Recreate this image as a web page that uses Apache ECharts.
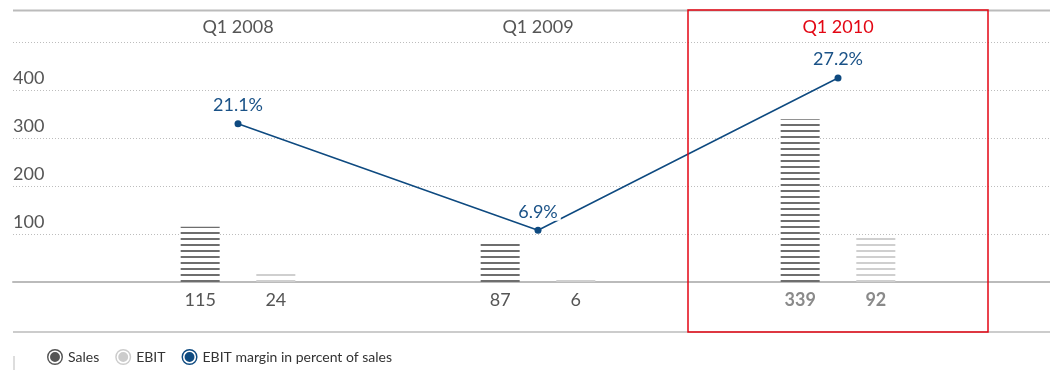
<!DOCTYPE html>
<html>
<head>
<meta charset="utf-8">
<script src="https://cdn.jsdelivr.net/npm/echarts@6/dist/echarts.min.js"></script>
<style>
html,body{margin:0;padding:0;background:#fff;}
#chart{width:1050px;height:374px;}
</style>
</head>
<body>
<div id="chart"></div>
<script>
// ---- data ----
var categories = ['Q1 2008', 'Q1 2009', 'Q1 2010'];
var sales = [115, 87, 339];
var ebit = [24, 6, 92];
var ebitMargin = [21.1, 6.9, 27.2];
var yTicks = [100, 200, 300, 400];
var highlightIndex = 2;

var FONT = 'Lato, "Open Sans", sans-serif';
var RED = '#e30613';
var BLUE = '#0e4a80';

function stripe(color) {
  var c = document.createElement('canvas');
  c.width = 4; c.height = 6;
  var ctx = c.getContext('2d');
  ctx.fillStyle = '#ffffff';
  ctx.fillRect(0, 0, 4, 6);
  ctx.fillStyle = color;
  ctx.fillRect(0, 4, 4, 2);
  return { image: c, repeat: 'repeat' };
}

function ringIcon() {
  return 'path://M10,0 A10,10 0 1,1 10,20 A10,10 0 1,1 10,0 Z ' +
         'M10,1.8 A8.2,8.2 0 1,0 10,18.2 A8.2,8.2 0 1,0 10,1.8 Z ' +
         'M10,3.8 A6.2,6.2 0 1,1 10,16.2 A6.2,6.2 0 1,1 10,3.8 Z';
}

function barData(vals) {
  return vals.map(function (v, i) {
    var hl = i === highlightIndex;
    return {
      value: v,
      label: hl ? { color: '#8a8a8a', fontWeight: 'bold' } : { color: '#555', fontWeight: 'normal' }
    };
  });
}

var chart = echarts.init(document.getElementById('chart'), null, { renderer: 'canvas' });

var option = {
  animation: false,
  backgroundColor: '#fff',
  textStyle: { fontFamily: FONT },
  grid: [
    { left: 88, right: 62, top: 42, bottom: 92 },
    { left: 13, right: 0, top: 42, bottom: 92 }
  ],
  legend: {
    left: 47, top: 349, padding: 0,
    itemWidth: 16, itemHeight: 16, itemGap: 16,
    textStyle: { fontFamily: FONT, fontSize: 14, color: '#333' },
    data: [
      { name: 'Sales', icon: ringIcon(), itemStyle: { color: '#555' } },
      { name: 'EBIT', icon: ringIcon(), itemStyle: { color: '#cccccc' } },
      { name: 'EBIT margin in percent of sales', icon: ringIcon(), itemStyle: { color: BLUE } }
    ]
  },
  xAxis: [
    {
      type: 'category', gridIndex: 0, position: 'top',
      data: categories.map(function (c, i) {
        return { value: c, textStyle: { color: i === highlightIndex ? RED : '#555' } };
      }),
      axisLine: { show: false }, axisTick: { show: false },
      axisLabel: { fontFamily: FONT, fontSize: 18, margin: 6, color: '#555' }
    },
    {
      type: 'value', gridIndex: 1, min: 0, max: 1,
      axisLine: { show: true, lineStyle: { color: '#bbbbbb', width: 2 } },
      axisTick: { show: false }, axisLabel: { show: false }, splitLine: { show: false }
    }
  ],
  yAxis: [
    { type: 'value', gridIndex: 0, min: 0, max: 500, interval: 100, show: false },
    { type: 'value', gridIndex: 0, min: 0, max: 32, show: false },
    {
      type: 'value', gridIndex: 1, min: 0, max: 500, interval: 100,
      axisLine: { show: false }, axisTick: { show: false },
      axisLabel: {
        inside: true, margin: 0, fontFamily: FONT, fontSize: 18, color: '#555',
        verticalAlign: 'bottom', lineHeight: 18, padding: [0, 0, 3, 0],
        formatter: function (v) { return yTicks.indexOf(v) >= 0 ? String(v) : ''; }
      },
      splitLine: { show: true, lineStyle: { color: '#bdbdbd', type: [1, 2], width: 1 } }
    }
  ],
  series: [
    {
      name: 'Sales', type: 'bar', xAxisIndex: 0, yAxisIndex: 0,
      barWidth: 39, barGap: '94%',
      itemStyle: { color: stripe('#6e6e6e') },
      label: { show: true, position: 'bottom', distance: 9, fontFamily: FONT, fontSize: 18 },
      data: barData(sales)
    },
    {
      name: 'EBIT', type: 'bar', xAxisIndex: 0, yAxisIndex: 0,
      barWidth: 39,
      itemStyle: { color: stripe('#cfcfcf') },
      label: { show: true, position: 'bottom', distance: 9, fontFamily: FONT, fontSize: 18 },
      data: barData(ebit)
    },
    {
      name: 'EBIT margin in percent of sales', type: 'line', xAxisIndex: 0, yAxisIndex: 1,
      z: 5,
      symbol: 'circle', symbolSize: 7,
      lineStyle: { color: BLUE, width: 1.5 },
      itemStyle: { color: BLUE },
      label: {
        show: true, position: 'top', distance: 6,
        fontFamily: FONT, fontSize: 18, color: '#1a5287',
        backgroundColor: '#fff', padding: [0, 3],
        formatter: function (p) { return p.value.toFixed(1) + '%'; }
      },
      data: ebitMargin
    }
  ],
  graphic: [
    { type: 'line', shape: { x1: 13, y1: 10.5, x2: 1050, y2: 10.5 }, style: { stroke: '#bbbbbb', lineWidth: 2 }, z: 1 },
    { type: 'line', shape: { x1: 13, y1: 332, x2: 1050, y2: 332 }, style: { stroke: '#bbbbbb', lineWidth: 1.5 }, z: 1 },
    { type: 'line', shape: { x1: 14, y1: 356, x2: 14, y2: 370 }, style: { stroke: '#bbbbbb', lineWidth: 1 }, z: 1 }
  ]
};

chart.setOption(option);

// red highlight box around the highlighted category band
var xCenter = chart.convertToPixel({ xAxisIndex: 0 }, categories[highlightIndex]);
var xPrev = chart.convertToPixel({ xAxisIndex: 0 }, categories[highlightIndex - 1]);
var band = xCenter - xPrev;
chart.setOption({
  graphic: option.graphic.concat([{
    type: 'rect', z: 10,
    shape: { x: xCenter - band / 2, y: 10, width: band, height: 322 },
    style: { fill: 'none', stroke: RED, lineWidth: 1.5 }
  }])
});
</script>
</body>
</html>
